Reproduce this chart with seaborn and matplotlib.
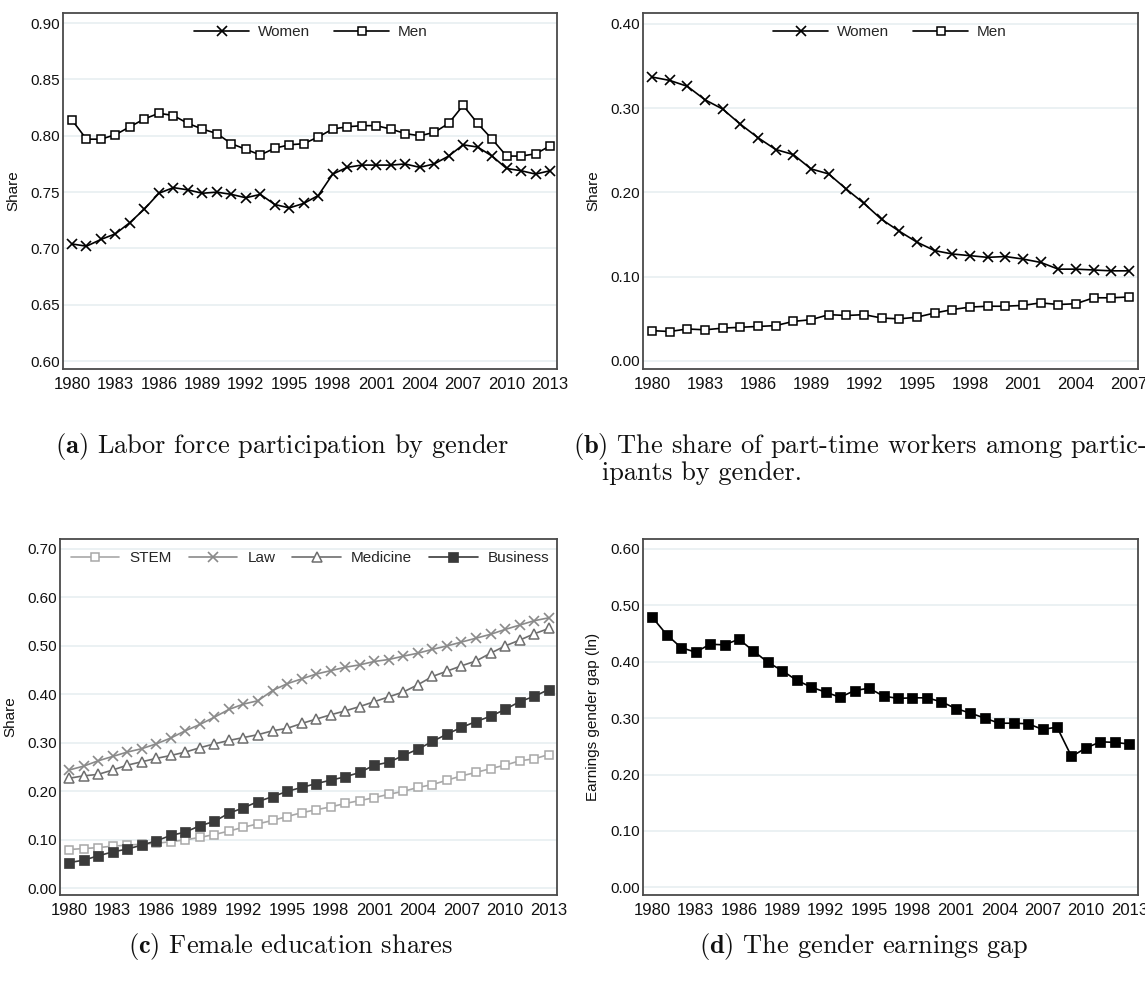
import numpy as np
import pandas as pd
import matplotlib
matplotlib.use("Agg")
import matplotlib.pyplot as plt
import seaborn as sns

# ---------------- data ----------------
years_a = list(range(1980, 2014))
lfp_women = [0.704, 0.702, 0.708, 0.713, 0.723, 0.735, 0.749, 0.754, 0.752, 0.749,
             0.750, 0.748, 0.745, 0.748, 0.739, 0.736, 0.740, 0.747, 0.766, 0.772,
             0.774, 0.774, 0.774, 0.775, 0.772, 0.775, 0.782, 0.792, 0.790, 0.782,
             0.771, 0.769, 0.766, 0.769]
lfp_men = [0.814, 0.797, 0.797, 0.801, 0.808, 0.815, 0.820, 0.818, 0.811, 0.806,
           0.802, 0.793, 0.788, 0.783, 0.789, 0.792, 0.793, 0.799, 0.806, 0.808,
           0.809, 0.809, 0.806, 0.802, 0.800, 0.803, 0.811, 0.827, 0.811, 0.797,
           0.782, 0.782, 0.784, 0.791]

years_b = list(range(1980, 2008))
pt_women = [0.337, 0.333, 0.326, 0.310, 0.299, 0.281, 0.265, 0.251, 0.245, 0.228,
            0.222, 0.204, 0.187, 0.168, 0.154, 0.141, 0.131, 0.127, 0.125, 0.123,
            0.124, 0.121, 0.117, 0.109, 0.109, 0.108, 0.107, 0.107]
pt_men = [0.036, 0.035, 0.038, 0.037, 0.039, 0.040, 0.041, 0.042, 0.047, 0.049,
          0.055, 0.054, 0.055, 0.051, 0.050, 0.052, 0.057, 0.061, 0.064, 0.065,
          0.065, 0.066, 0.069, 0.067, 0.068, 0.075, 0.075, 0.076]

years_c = list(range(1980, 2014))
edu_stem = [0.080, 0.082, 0.084, 0.087, 0.089, 0.091, 0.093, 0.096, 0.100, 0.105,
            0.111, 0.118, 0.126, 0.133, 0.140, 0.148, 0.156, 0.162, 0.168, 0.175,
            0.181, 0.187, 0.194, 0.200, 0.208, 0.214, 0.223, 0.232, 0.239, 0.247,
            0.254, 0.263, 0.267, 0.276]
edu_law = [0.244, 0.252, 0.263, 0.272, 0.281, 0.288, 0.298, 0.310, 0.325, 0.338,
           0.353, 0.369, 0.380, 0.387, 0.408, 0.422, 0.432, 0.442, 0.449, 0.456,
           0.461, 0.468, 0.472, 0.479, 0.485, 0.493, 0.500, 0.508, 0.516, 0.524,
           0.534, 0.543, 0.552, 0.558]
edu_med = [0.227, 0.232, 0.235, 0.244, 0.254, 0.261, 0.268, 0.274, 0.281, 0.290,
           0.298, 0.305, 0.311, 0.317, 0.325, 0.330, 0.340, 0.349, 0.358, 0.366,
           0.375, 0.385, 0.395, 0.405, 0.420, 0.437, 0.448, 0.459, 0.469, 0.485,
           0.500, 0.512, 0.525, 0.536]
edu_bus = [0.053, 0.058, 0.067, 0.075, 0.081, 0.089, 0.098, 0.109, 0.116, 0.129,
           0.138, 0.155, 0.166, 0.179, 0.189, 0.200, 0.208, 0.216, 0.223, 0.230,
           0.239, 0.254, 0.260, 0.274, 0.287, 0.303, 0.318, 0.332, 0.344, 0.355,
           0.369, 0.385, 0.396, 0.410]

years_d = list(range(1980, 2014))
gap = [0.479, 0.448, 0.425, 0.417, 0.431, 0.430, 0.440, 0.419, 0.399, 0.384,
       0.367, 0.355, 0.346, 0.337, 0.349, 0.353, 0.339, 0.335, 0.336, 0.336,
       0.329, 0.317, 0.309, 0.300, 0.291, 0.291, 0.290, 0.280, 0.284, 0.232,
       0.247, 0.258, 0.257, 0.254]

xticks_a = list(range(1980, 2014, 3))
xticks_b = list(range(1980, 2008, 3))
yticks_a = [0.60, 0.65, 0.70, 0.75, 0.80, 0.85, 0.90]
yticks_b = [0.00, 0.10, 0.20, 0.30, 0.40]
yticks_c = [0.00, 0.10, 0.20, 0.30, 0.40, 0.50, 0.60, 0.70]
yticks_d = [0.00, 0.10, 0.20, 0.30, 0.40, 0.50, 0.60]

captions = {
    "a": ("(a)", "Labor force participation by gender"),
    "b": ("(b)", "The share of part-time workers among partic-"),
    "c": ("(c)", "Female education shares"),
    "d": ("(d)", "The gender earnings gap"),
}
caption_b2 = "ipants by gender."

# ---------------- style ----------------
sns.set_theme(style="white")
plt.rcParams['font.family'] = ['Liberation Sans', 'DejaVu Sans']
plt.rcParams['mathtext.fontset'] = 'cm'

W, H = 1145, 985
fig = plt.figure(figsize=(W / 100, H / 100), dpi=100)

def box(l, t, r, b):
    return [l / W, 1 - b / H, (r - l) / W, (b - t) / H]

ax_a = fig.add_axes(box(63, 13, 557, 369))
ax_b = fig.add_axes(box(643, 13, 1138, 369))
ax_c = fig.add_axes(box(60, 539, 557, 895))
ax_d = fig.add_axes(box(643, 539, 1138, 895))

GRID = "#e8eff1"
SPINE = "#4a4a4a"
TXT = "#111111"

def style(ax, xticks, yticks, xlim, ylim, ylabel):
    ax.set_xlim(*xlim)
    ax.set_ylim(*ylim)
    ax.set_xticks(xticks)
    ax.set_xticklabels([str(x) for x in xticks])
    ax.set_yticks(yticks)
    ax.set_yticklabels([f"{y:.2f}" for y in yticks])
    ax.tick_params(axis='x', length=0, labelsize=12, colors=TXT, pad=6)
    ax.tick_params(axis='y', length=0, labelsize=11, colors=TXT, pad=2.5)
    ax.yaxis.grid(True, color=GRID, lw=1.2)
    ax.xaxis.grid(False)
    ax.set_axisbelow(True)
    for s in ax.spines.values():
        s.set_color(SPINE)
        s.set_linewidth(1.3)
        s.set_visible(True)
    ax.set_ylabel(ylabel, fontsize=11, labelpad=7, color=TXT)
    ax.set_xlabel("")

sq = dict(marker='s', markersize=5.5, markerfacecolor='white',
          markeredgecolor='black', markeredgewidth=1.1)
xm = dict(marker='x', markersize=7.5, markeredgewidth=1.2, markeredgecolor='black')

# ---- (a)
sns.lineplot(x=years_a, y=lfp_women, ax=ax_a, color='black', lw=1.2, label='Women', **xm)
sns.lineplot(x=years_a, y=lfp_men, ax=ax_a, color='black', lw=1.2, label='Men', **sq)
style(ax_a, xticks_a, yticks_a, (1979.38, 2013.48), (0.593, 0.909), "Share")

# ---- (b)
sns.lineplot(x=years_b, y=pt_women, ax=ax_b, color='black', lw=1.2, label='Women', **xm)
sns.lineplot(x=years_b, y=pt_men, ax=ax_b, color='black', lw=1.2, label='Men', **sq)
style(ax_b, xticks_b, yticks_b, (1979.49, 2007.51), (-0.0095, 0.413), "Share")

for ax, cx in ((ax_a, 0.502), (ax_b, 0.499)):
    ax.legend(loc='center', bbox_to_anchor=(cx, 0.947), ncol=2, frameon=False,
              fontsize=11, handlelength=3.6, columnspacing=1.55, handletextpad=0.6)

# ---- (c)
sns.lineplot(x=years_c, y=edu_stem, ax=ax_c, color='#a8a8a8', lw=1.2, label='STEM',
             marker='s', markersize=5.5, markerfacecolor='white', markeredgecolor='#a8a8a8',
             markeredgewidth=1.1)
sns.lineplot(x=years_c, y=edu_law, ax=ax_c, color='#8a8a8a', lw=1.2, label='Law',
             marker='x', markersize=7.5, markeredgewidth=1.2, markeredgecolor='#8a8a8a')
sns.lineplot(x=years_c, y=edu_med, ax=ax_c, color='#6e6e6e', lw=1.2, label='Medicine',
             marker='^', markersize=6.5, markerfacecolor='white', markeredgecolor='#6e6e6e',
             markeredgewidth=1.1)
sns.lineplot(x=years_c, y=edu_bus, ax=ax_c, color='#3a3a3a', lw=1.2, label='Business',
             marker='s', markersize=6.5, markerfacecolor='#3a3a3a', markeredgecolor='#3a3a3a',
             markeredgewidth=0.5)
style(ax_c, xticks_a, yticks_c, (1979.38, 2013.57), (-0.0138, 0.7206), "Share")
ax_c.legend(loc='center', bbox_to_anchor=(0.503, 0.947), ncol=4, frameon=False,
            fontsize=11, handlelength=3.2, columnspacing=1.1, handletextpad=0.65)

# ---- (d)
sns.lineplot(x=years_d, y=gap, ax=ax_d, color='black', lw=1.2, marker='s',
             markersize=7, markerfacecolor='black', markeredgecolor='black',
             markeredgewidth=0.5, legend=False)
style(ax_d, xticks_a, yticks_d, (1979.36, 2013.6), (-0.0137, 0.6177),
      "Earnings gender gap (ln)")

# ---------------- captions ----------------
CAP = 19
def cap(x, y, key, ha):
    lab, txt = captions[key]
    fig.text(x / W, 1 - y / H, r"$\mathbf{" + lab + "}$ " + txt, family='cmr10',
             fontsize=CAP, ha=ha, va='baseline', color=TXT)

cap(282, 453, "a", 'center')
cap(573, 453, "b", 'left')
fig.text(602 / W, 1 - 480 / H, caption_b2, family='cmr10', fontsize=CAP,
         ha='left', va='baseline', color=TXT)
cap(290, 953, "c", 'center')
cap(864, 953, "d", 'center')

fig.savefig("out.png", dpi=100)
